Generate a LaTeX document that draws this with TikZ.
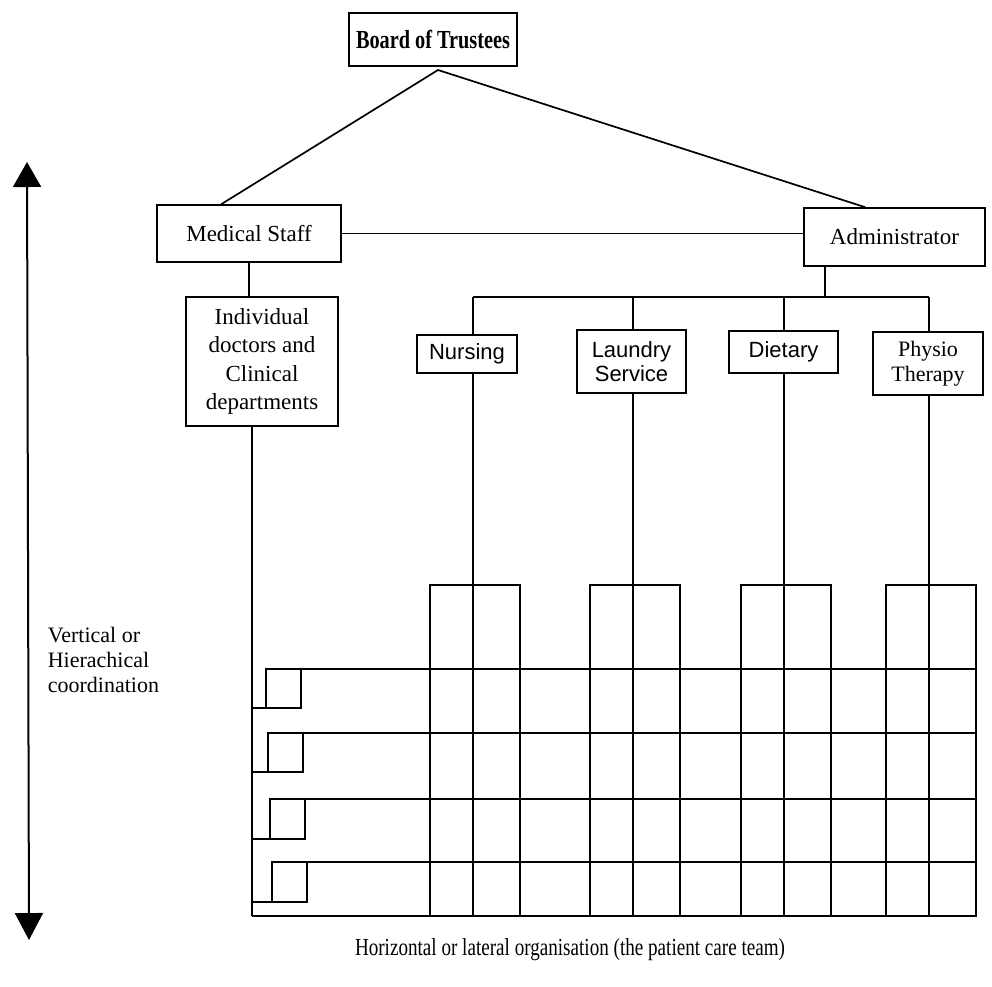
\documentclass[tikz,border=0pt]{standalone}
\usepackage{fontspec}
\setmainfont{Liberation Serif}
\newfontfamily\sansfam{Liberation Sans}
\newfontfamily\condfam[FakeStretch=0.78]{Liberation Serif}
\usetikzlibrary{arrows.meta,calc}

\begin{document}
\begin{tikzpicture}[x=1pt,y=-1pt,line width=1.7pt,
    box/.style={draw,line width=1.5pt,inner sep=0pt,align=center},
    rmtext/.style={font=\fontsize{23}{28.5}\selectfont},
    sftext/.style={font=\sansfam\fontsize{22}{24}\selectfont},
    thinline/.style={line width=1.3pt}]
  \useasboundingbox (0,0) rectangle (992,986);

  \node[box,minimum width=168pt,minimum height=53pt,font=\condfam\bfseries\fontsize{26}{30}\selectfont] (board) at (433,39.5) {Board of Trustees};
  \node[box,rmtext,minimum width=184pt,minimum height=57pt] (medical) at (249,233.5) {Medical Staff};
  \node[box,rmtext,minimum width=181pt,minimum height=58pt] (admin) at (894.5,237) {Administrator};
  \node[box,rmtext,minimum width=152pt,minimum height=129pt] (indiv) at (262,361.5) {Individual\\doctors and\\Clinical\\departments};
  \node[box,sftext,minimum width=100pt,minimum height=38pt] (nursing) at (467,354) {Nursing};
  \node[box,sftext,minimum width=109pt,minimum height=63pt] (laundry) at (631.5,361.5) {Laundry\\Service};
  \node[box,sftext,minimum width=109pt,minimum height=42pt] (dietary) at (783.5,352) {Dietary};
  \node[box,font=\fontsize{22}{25}\selectfont,minimum width=110pt,minimum height=63pt] (physio) at (928,363.5) {Physio\\Therapy};

  \coordinate (apex) at (438,70);
  \coordinate (medlink) at ($(medical.north west)!0.35!(medical.north east)$);
  \coordinate (admlink) at ($(admin.north west)!0.34!(admin.north east)$);
  \draw (medlink) -- (apex) -- (admlink);
  \draw (medical.east) -- (medical.east -| admin.west);
  \draw[thinline] (medical.south) -- (medical.south |- indiv.north);

  \coordinate (admdrop) at (825,297);
  \draw[thinline] (admdrop |- admin.south) -- (admdrop);

  \foreach \c/\n in {473/nursing,633/laundry,784/dietary,929/physio}{
    \coordinate (b\n) at (\c,297);
    \coordinate (g\n) at (\c,916);
    \draw[thinline] (b\n) -- (b\n |- \n.north);
    \draw[thinline] (g\n |- \n.south) -- (g\n);
    \draw (\c-43,916) -- (\c-43,585) -- (\c+47,585) -- (\c+47,916);
  }
  \draw (bnursing) -- (bphysio);

  \coordinate (leftbot) at (252,916);
  \draw[thinline] (leftbot |- indiv.south) -- (leftbot);
  \draw (leftbot) -- (977,916);

  \foreach \y/\l/\h in {669/266/39,733/268/39,799/270/40,862/272/40}{
    \draw (252,\y+\h) -- (\l+35,\y+\h) -- (\l+35,\y);
    \draw (\l,\y+\h) -- (\l,\y) -- (977,\y);
  }

  \coordinate (vtop) at (27,162);
  \coordinate (vbot) at (29,940);
  \draw[line width=2pt,{Triangle[width=28pt,length=25pt]}-{Triangle[width=28pt,length=27pt]}] (vtop) -- (vbot);

  \node[rmtext,font=\fontsize{22}{25}\selectfont,align=left,anchor=west,inner sep=0pt] (vlabel) at (47,660) {Vertical or\\Hierachical\\coordination};
  \node[font=\condfam\fontsize{24.5}{28}\selectfont,inner sep=0pt] (hlabel) at (570,950) {Horizontal or lateral organisation (the patient care team)};
\end{tikzpicture}
\end{document}
